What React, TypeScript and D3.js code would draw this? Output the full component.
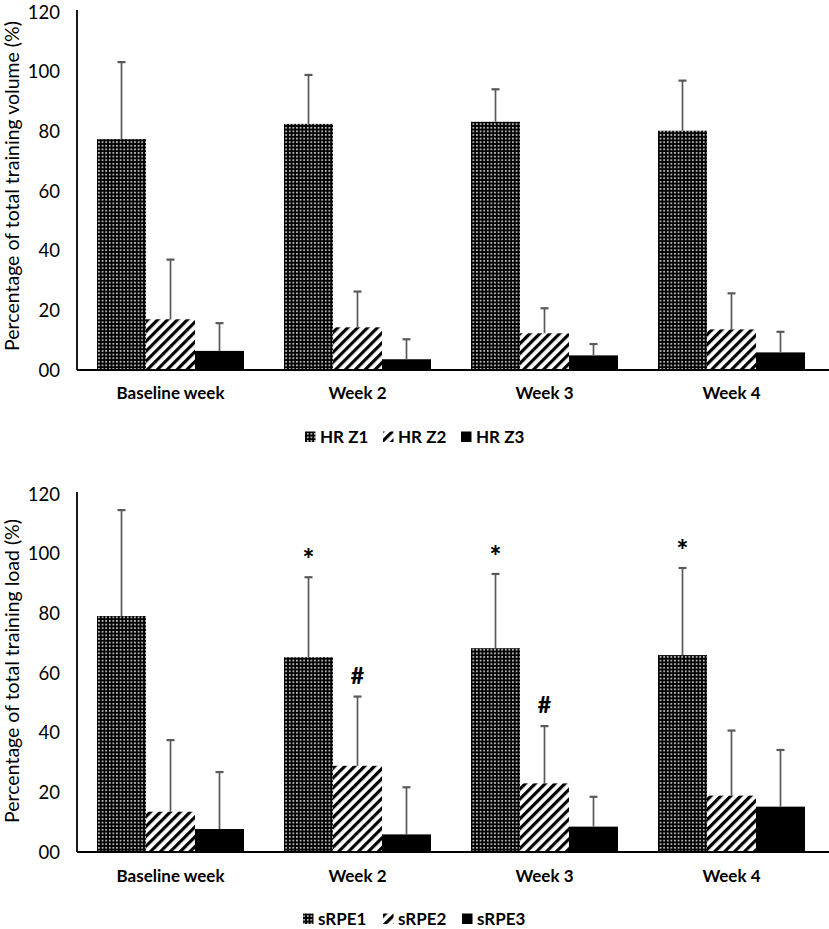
import * as d3 from 'd3';

const categories = ['Baseline week', 'Week 2', 'Week 3', 'Week 4'];
const yTicks = [0, 20, 40, 60, 80, 100, 120];

// Top panel: % of total training volume by HR zone
const hrSeries = ['HR Z1', 'HR Z2', 'HR Z3'];
const hrZ1 = [77.4, 82.5, 83.2, 80.2];
const hrZ1Sd = [25.8, 16.4, 10.9, 16.8];
const hrZ2 = [17.0, 14.3, 12.3, 13.6];
const hrZ2Sd = [20.0, 12.0, 8.4, 12.1];
const hrZ3 = [6.4, 3.6, 4.9, 5.9];
const hrZ3Sd = [9.3, 6.7, 3.8, 6.9];

// Bottom panel: % of total training load by sRPE zone
const rpeSeries = ['sRPE1', 'sRPE2', 'sRPE3'];
const rpe1 = [79.1, 65.3, 68.3, 66.0];
const rpe1Sd = [35.5, 26.8, 24.9, 29.2];
const rpe2 = [13.5, 28.9, 23.0, 18.9];
const rpe2Sd = [24.0, 23.2, 19.2, 21.8];
const rpe3 = [7.7, 5.9, 8.5, 15.2];
const rpe3Sd = [19.1, 15.8, 10.0, 19.0];

// significance marks: [category index, series index, symbol]
const rpeMarks: [number, number, string][] = [
  [1, 0, '*'],
  [2, 0, '*'],
  [3, 0, '*'],
  [1, 1, '#'],
  [2, 1, '#'],
];

const W = 829;
const H = 929;
const FONT = 'Lato, "Open Sans", sans-serif';
const fills = ['url(#dots)', 'url(#stripes)', '#000'];

interface PanelProps {
  top: number;
  bottom: number;
  title: string;
  titleY: number;
  series: string[];
  means: number[][];
  sds: number[][];
  marks: [number, number, string][];
  catY: number;
  legendY: number;
  legendX: number[];
}

function Panel({ top, bottom, title, titleY, series, means, sds, marks, catY, legendY, legendX }: PanelProps) {
  const x0 = d3
    .scaleBand()
    .domain(categories)
    .range([77, 825])
    .paddingInner(0.214)
    .paddingOuter(0.107);
  const x1 = d3.scaleBand().domain(series).range([0, x0.bandwidth()]);
  const y = d3.scaleLinear().domain([0, 120]).range([bottom, top]);

  return (
    <g>
      {/* bars */}
      {series.map((s, si) =>
        categories.map((c, ci) => {
          const bx = (x0(c) || 0) + (x1(s) || 0);
          return (
            <rect
              key={s + c}
              x={bx}
              y={y(means[si][ci])}
              width={x1.bandwidth()}
              height={bottom - y(means[si][ci])}
              fill={fills[si]}
            />
          );
        })
      )}
      {/* error bars (upper) */}
      {series.map((s, si) =>
        categories.map((c, ci) => {
          const cx = (x0(c) || 0) + (x1(s) || 0) + x1.bandwidth() / 2;
          const yt = y(means[si][ci] + sds[si][ci]);
          return (
            <g key={'e' + s + c} stroke="#595959" strokeWidth={1.7}>
              <line x1={cx} x2={cx} y1={y(means[si][ci])} y2={yt} />
              <line x1={cx - 4} x2={cx + 4} y1={yt} y2={yt} strokeWidth={2.2} />
            </g>
          );
        })
      )}
      {/* significance symbols */}
      {marks.map(([ci, si, sym]) => {
        const cx = (x0(categories[ci]) || 0) + (x1(series[si]) || 0) + x1.bandwidth() / 2;
        const yt = y(means[si][ci] + sds[si][ci]);
        return (
          <text
            key={'m' + ci + si}
            x={cx}
            y={sym === '*' ? yt - 8 : yt - 13}
            textAnchor="middle"
            fontFamily={FONT}
            fontWeight="900"
            fontSize={sym === '*' ? 28 : 23}
          >
            {sym}
          </text>
        );
      })}
      {/* axes */}
      <line x1={77} x2={77} y1={top - 2} y2={bottom} stroke="#000" strokeWidth={1.8} />
      <line x1={77} x2={W} y1={bottom} y2={bottom} stroke="#000" strokeWidth={2.2} />
      {yTicks.map((t) => (
        <text
          key={'t' + t}
          x={60}
          y={y(t)}
          dy="0.36em"
          textAnchor="end"
          fontFamily={FONT}
          fontSize={18.5}
        >
          {t === 0 ? '00' : t}
        </text>
      ))}
      <text
        transform={`translate(19,${titleY}) rotate(-90)`}
        textAnchor="middle"
        fontFamily={FONT}
        fontSize={19.5}
      >
        {title}
      </text>
      {categories.map((c) => (
        <text
          key={'c' + c}
          x={(x0(c) || 0) + x0.bandwidth() / 2}
          y={catY}
          textAnchor="middle"
          fontFamily={FONT}
          fontWeight="bold"
          fontSize={17}
        >
          {c}
        </text>
      ))}
      {/* legend */}
      {series.map((s, si) => (
        <g key={'l' + s}>
          <rect x={legendX[si]} y={legendY - 11.5} width={10.5} height={10.5} fill={fills[si]} />
          <text
            x={legendX[si] + 15}
            y={legendY}
            fontFamily={FONT}
            fontWeight="bold"
            fontSize={17}
          >
            {s}
          </text>
        </g>
      ))}
    </g>
  );
}

export default function App() {
  return (
    <div style={{ position: 'absolute', left: 0, top: 0 }}>
      <svg width={W} height={H} style={{ display: 'block', background: '#fff' }}>
        <defs>
          <pattern id="dots" patternUnits="userSpaceOnUse" width={3.6} height={3.6}>
            <rect width={3.6} height={3.6} fill="#000" />
            <rect x={1} y={1} width={1.5} height={1.5} fill="#fff" />
          </pattern>
          <pattern
            id="stripes"
            patternUnits="userSpaceOnUse"
            width={7}
            height={7}
            patternTransform="rotate(45)"
          >
            <rect width={7} height={7} fill="#fff" />
            <rect width={3.2} height={7} fill="#000" />
          </pattern>
        </defs>
        <Panel
          top={12}
          bottom={370}
          title="Percentage of total training volume (%)"
          titleY={186}
          series={hrSeries}
          means={[hrZ1, hrZ2, hrZ3]}
          sds={[hrZ1Sd, hrZ2Sd, hrZ3Sd]}
          marks={[]}
          catY={399}
          legendY={443}
          legendX={[305, 383, 461]}
        />
        <Panel
          top={494}
          bottom={852}
          title="Percentage of total training load (%)"
          titleY={671}
          series={rpeSeries}
          means={[rpe1, rpe2, rpe3]}
          sds={[rpe1Sd, rpe2Sd, rpe3Sd]}
          marks={rpeMarks}
          catY={882}
          legendY={925}
          legendX={[303, 383, 462]}
        />
      </svg>
    </div>
  );
}
